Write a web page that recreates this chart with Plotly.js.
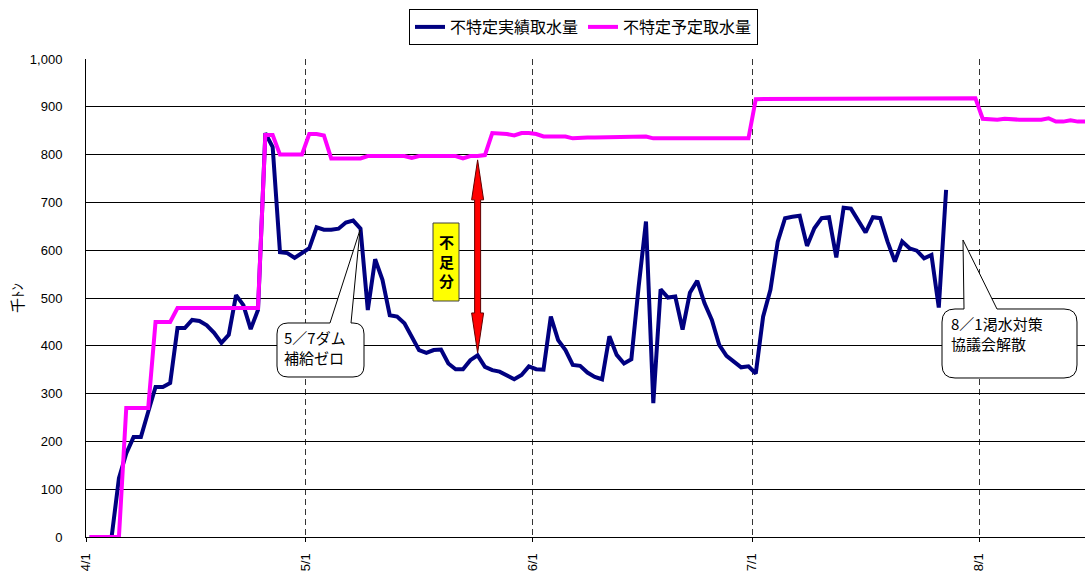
<!DOCTYPE html>
<html>
<head>
<meta charset="utf-8">
<script src="https://cdn.plot.ly/plotly-3.0.1.min.js"></script>
<style>html,body{margin:0;padding:0;background:#fff;}#chart{width:1085px;height:576px;}</style>
</head>
<body>
<div id="chart"></div>
<script>
// ---- data ----
const tickDays = [0, 30, 61, 91, 122];
const tickLabels = ['4/1', '5/1', '6/1', '7/1', '8/1'];
const seriesNames = ['不特定実績取水量', '不特定予定取水量'];

// daily actual intake (from 4/1)
const actual = [
  0, 0, 0, 0, 123, 175, 209, 209, 262, 314,
  314, 322, 437, 437, 454, 452, 443, 427, 406, 423,
  506, 485, 435, 475, 845, 816, 596, 594, 584, 594,
  604, 648, 643, 643, 645, 658, 662, 645, 475, 581,
  538, 464, 461, 447, 419, 391, 385, 391, 392, 363,
  351, 351, 370, 380, 356, 349, 346, 339, 330, 339,
  357, 351, 350, 461, 412, 391, 360, 358, 344, 335,
  330, 420, 381, 363, 372, 524, 660, 280, 518, 501,
  503, 434, 511, 536, 489, 454, 402, 379, 367, 355,
  357, 342, 461, 517, 618, 667, 670, 672, 609, 646,
  667, 669, 585, 689, 687, 663, 637, 669, 667, 618,
  576, 618, 604, 599, 583, 590, 480, 726
];

// daily planned intake (from 4/1)
const planned = [
  0, 0, 0, 0, 0, 270, 270, 270, 270, 450,
  450, 450, 479, 479, 479, 479, 479, 479, 479, 479,
  479, 479, 479, 479, 841, 841, 800, 800, 800, 800,
  843, 843, 840, 792, 792, 792, 792, 792, 797, 797,
  797, 797, 797, 797, 793, 797, 797, 797, 797, 797,
  797, 792, 797, 797, 799, 845, 845, 843, 840, 845,
  845, 843, 838, 838, 838, 838, 834, 836, 836, 836,
  836, 836, 836, 838, 838, 838, 838, 834, 834, 834,
  834, 834, 834, 834, 834, 834, 834, 834, 834, 834,
  834, 916, 916, 916, 916, 916, 917, 917, 917, 917,
  917, 917, 917, 917, 918, 918, 918, 918, 918, 918,
  918, 918, 918, 918, 918, 918, 918, 918, 918, 918,
  918, 918, 875, 873, 873, 875, 873, 873, 873, 873,
  873, 876, 869, 869, 872, 869, 869
];

const arrowDay = 53; // day where the shortfall arrow is drawn

// ---- helpers ----
const W = 1085, H = 576, ML = 86, MR = 0, MT = 59, MB = 39;
const PW = W - ML - MR, PH = H - MT - MB;
const px = x => (x - ML) / PW;
const py = y => (H - MB - y) / PH;

function xs(arr) { return arr.map((_, i) => i + 0.5); }

function callout(x0, y0, x1, y1, r, wa, wb, tx, ty) {
  const P = (x, y) => px(x).toFixed(5) + ',' + py(y).toFixed(5);
  const d = 'M' + P(x0 + r, y0) + ' L' + P(wa, y0) + ' L' + P(tx, ty) + ' L' + P(wb, y0) +
    ' L' + P(x1 - r, y0) + ' Q' + P(x1, y0) + ' ' + P(x1, y0 + r) +
    ' L' + P(x1, y1 - r) + ' Q' + P(x1, y1) + ' ' + P(x1 - r, y1) +
    ' L' + P(x0 + r, y1) + ' Q' + P(x0, y1) + ' ' + P(x0, y1 - r) +
    ' L' + P(x0, y0 + r) + ' Q' + P(x0, y0) + ' ' + P(x0 + r, y0) + ' Z';
  return {type: 'path', xref: 'paper', yref: 'paper', path: d,
          fillcolor: '#ffffff', line: {color: '#000000', width: 1}, layer: 'above'};
}

function label(text, x, y, size, bold, anchor, yanchor) {
  return {xref: 'paper', yref: 'paper', x: px(x), y: py(y), text: bold ? '<b>' + text + '</b>' : text,
          showarrow: false, xanchor: anchor || 'left', yanchor: yanchor || 'top', align: anchor === 'center' ? 'center' : 'left',
          borderpad: 0,
          font: {family: 'Noto Sans CJK JP', size: size, color: '#000000'}};
}

// arrow (pixel widths, data heights)
const headH = 40 / (PH / 1000);
const aTop = planned[arrowDay] - 8, aBot = actual[arrowDay] + 5;
const arrowPath = 'M0,' + aTop + ' L6,' + (aTop - headH) + ' L3,' + (aTop - headH) +
  ' L3,' + (aBot + headH) + ' L6,' + (aBot + headH) + ' L0,' + aBot +
  ' L-6,' + (aBot + headH) + ' L-3,' + (aBot + headH) + ' L-3,' + (aTop - headH) +
  ' L-6,' + (aTop - headH) + ' Z';

const traces = [
  {x: xs(actual), y: actual, name: seriesNames[0], type: 'scatter', mode: 'lines',
   line: {color: '#000080', width: 4}},
  {x: xs(planned), y: planned, name: seriesNames[1], type: 'scatter', mode: 'lines',
   line: {color: '#FF00FF', width: 4}}
];

const layout = {
  width: W, height: H,
  margin: {l: ML, r: MR, t: MT, b: MB},
  paper_bgcolor: '#ffffff', plot_bgcolor: '#ffffff',
  font: {family: 'Liberation Sans, Arial, sans-serif', color: '#000000'},
  showlegend: true,
  legend: {orientation: 'h', x: px(409), y: py(9), xanchor: 'left', yanchor: 'top',
           bordercolor: '#000000', borderwidth: 1, bgcolor: '#ffffff',
           font: {family: 'Noto Sans CJK JP', size: 16, color: '#000000'},
           tracegroupgap: 0, itemwidth: 30},
  xaxis: {range: [0, PW / 7.32], tickvals: tickDays, ticktext: tickLabels, tickangle: -90,
          showgrid: true, gridcolor: '#333333', griddash: '6px,4px', gridwidth: 1,
          showline: true, linecolor: '#000000', linewidth: 1, ticks: 'outside', ticklen: 4,
          tickcolor: '#000000', zeroline: false, fixedrange: true, ticklabelstandoff: 6,
          tickfont: {size: 13, family: 'Liberation Sans, Arial, sans-serif'}},
  yaxis: {range: [0, 1000], dtick: 100, tickformat: ',d', showgrid: true, gridcolor: '#000000',
          gridwidth: 1, showline: true, linecolor: '#000000', linewidth: 1, ticks: '',
          ticklabelstandoff: 20, zeroline: false, fixedrange: true,
          tickfont: {size: 13, family: 'Liberation Sans, Arial, sans-serif'},
          title: {text: '千ﾄﾝ', standoff: 2, font: {size: 15, family: 'Noto Sans CJK JP'}}},
  shapes: [
    {type: 'path', xref: 'x', yref: 'y', xsizemode: 'pixel', xanchor: arrowDay + 0.5,
     path: arrowPath, fillcolor: '#FF0000', line: {color: '#600000', width: 1}, layer: 'above'},
    {type: 'rect', xref: 'paper', yref: 'paper', x0: px(433), x1: px(459), y0: py(301), y1: py(223),
     fillcolor: '#FFFF00', line: {color: '#404040', width: 1}, layer: 'above'},
    callout(277, 323, 364, 377, 11, 330, 351, 360, 230),
    callout(942, 309, 1077, 378, 13, 964, 997, 963, 240)
  ],
  annotations: [
    label('5／7ダム<br>補給ゼロ', 283, 326, 15),
    label('8／1渇水対策<br>協議会解散', 950, 312, 15),
    label('不<br>足<br>分', 446, 261, 15, true, 'center', 'middle')
  ]
};

Plotly.newPlot('chart', traces, layout, {displayModeBar: false, staticPlot: true});
</script>
</body>
</html>
